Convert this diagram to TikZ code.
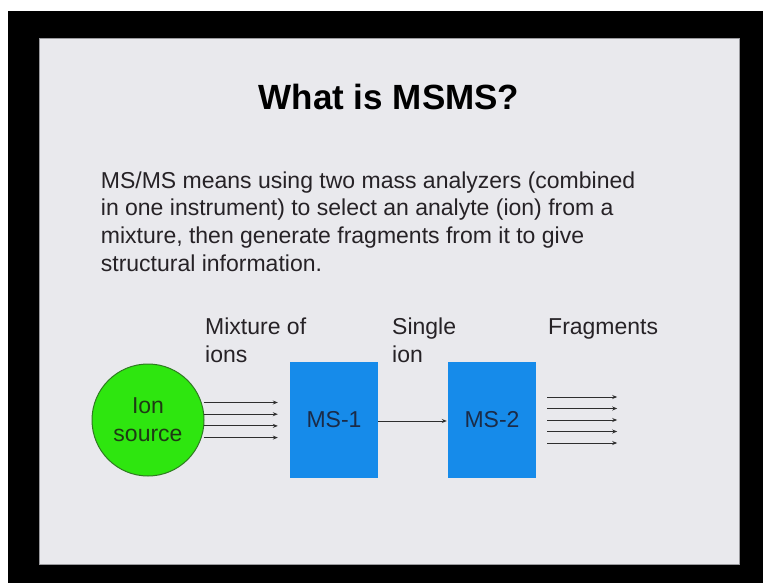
\documentclass[tikz,border=0pt]{standalone}
\usepackage{fontspec}
\setmainfont{Liberation Sans}
\usetikzlibrary{arrows.meta}
\definecolor{slidebg}{HTML}{E9E9ED}
\definecolor{slideedge}{HTML}{9A9A9E}
\definecolor{inktext}{HTML}{262226}
\definecolor{srcgreen}{HTML}{2EE60F}
\definecolor{srcedge}{HTML}{2F7A22}
\definecolor{srcink}{HTML}{1E3A14}
\definecolor{msblue}{HTML}{168BEA}
\definecolor{msink}{HTML}{1B2B47}
\definecolor{rayink}{HTML}{2E2E2E}
\tikzset{
  bodyfont/.style={font=\fontsize{23}{27.7}\selectfont, text=inktext, inner sep=0pt},
  textline/.style={bodyfont, anchor=base west},
  sourcenode/.style={circle, draw=srcedge, line width=1pt, fill=srcgreen,
    minimum size=112pt, inner sep=0pt, align=center,
    font=\fontsize{23}{28}\selectfont, text=srcink},
  msbox/.style={rectangle, fill=msblue, minimum width=88pt, minimum height=116pt,
    inner sep=0pt, font=\fontsize{23}{28}\selectfont, text=msink},
  ray/.style={draw=rayink, line width=0.9pt, -{Stealth[length=5pt,width=4pt]}}
}
\begin{document}
\begin{tikzpicture}[x=1pt,y=-1pt]
  \useasboundingbox (0,0) rectangle (763,583);
  % frame around the slide
  \fill[white] (0,0) rectangle (763,583);
  \fill[black] (8,11) rectangle (763,583);
  \filldraw[fill=slidebg, draw=slideedge, line width=1pt] (39.5,38.5) rectangle (739,564);

  % title
  \node[anchor=base, inner sep=0pt, font=\fontsize{35}{40}\selectfont\bfseries, text=black]
    (title) at (389,110) {What is MSMS?};

  % explanation
  \node[textline] (p1) at (100.7,188)   {MS/MS means using two mass analyzers (combined};
  \node[textline] (p2) at (100.7,215.6) {in one instrument) to select an analyte (ion) from a};
  \node[textline] (p3) at (100.7,243.3) {mixture, then generate fragments from it to give};
  \node[textline] (p4) at (100.7,271)   {structural information.};

  % stage labels
  \node[textline] (mixa) at (205,334) {Mixture of};
  \node[textline] (mixb) at (205,362) {ions};
  \node[textline] (sina) at (392,334) {Single};
  \node[textline] (sinb) at (392,362) {ion};
  \node[textline] (frag) at (548,334) {Fragments};

  % instrument stages
  \node[sourcenode] (src) at (148,420) {Ion\\source};
  \node[msbox] (ms1) at (334,420) {MS-1};
  \node[msbox] (ms2) at (492,420) {MS-2};

  % beam of mixed ions entering MS-1 (shifts are in page units, upwards)
  \foreach \i/\dy in {1/17.5,2/5.8,3/-5.9,4/-17.6}{
    \coordinate (mixin\i) at ([xshift=-12pt,yshift=\dy pt]ms1.west);
    \draw[ray] ([xshift=-1pt,yshift=\dy pt]src.east) -- (mixin\i);
  }

  % single selected ion
  \draw[ray] ([yshift=-1pt]ms1.east) -- ([yshift=-1pt,xshift=-1pt]ms2.west);

  % fragments leaving MS-2
  \foreach \i/\dy in {1/23,2/11.5,3/0,4/-11.5,5/-23}{
    \coordinate (fragend\i) at ([xshift=81pt,yshift=\dy pt]ms2.east);
    \draw[ray] ([xshift=11pt,yshift=\dy pt]ms2.east) -- (fragend\i);
  }
\end{tikzpicture}
\end{document}
